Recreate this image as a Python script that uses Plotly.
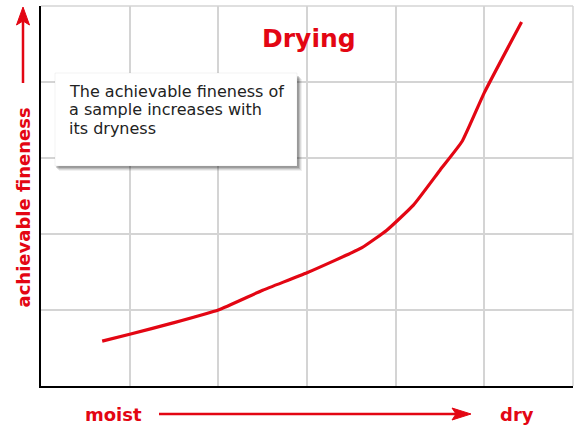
import plotly.graph_objects as go

# Drying curve: relative dryness (x) vs achievable fineness (y), grid units
dryness = [0.69, 1.0, 1.49, 2.0, 2.5, 3.0, 3.62, 3.9, 4.2, 4.5, 4.75, 5.0, 5.42]
fineness = [0.59, 0.68, 0.83, 1.0, 1.26, 1.49, 1.82, 2.05, 2.38, 2.84, 3.22, 3.86, 4.79]

x_grid = [0, 1, 2, 3, 4, 5, 6]
y_grid = [0, 1, 2, 3, 4, 5]

title_text = "Drying"
note_lines = ["The achievable fineness of", "a sample increases with", "its dryness"]
x_label_left = "moist"
x_label_right = "dry"
y_label = "achievable fineness"

RED = "#e30613"
GRID = "#d4d4d4"
W, H = 579, 427
ML, MR, MT, MB = 41, 6, 6, 41
PW, PH = W - ML - MR, H - MT - MB


def px(X):
    return (X - ML) / PW


def py(Y):
    return (H - MB - Y) / PH


fig = go.Figure()
fig.add_trace(go.Scatter(
    x=dryness, y=fineness, mode="lines",
    line=dict(color=RED, width=3.2, shape="spline", smoothing=0.4),
    hoverinfo="skip", showlegend=False,
))

shapes = []
# frame: grey top/right, black left/bottom
shapes.append(dict(type="line", xref="paper", yref="paper", x0=0, x1=1, y0=1, y1=1,
                   line=dict(color=GRID, width=1.5), layer="below"))
shapes.append(dict(type="line", xref="paper", yref="paper", x0=1, x1=1, y0=0, y1=1,
                   line=dict(color=GRID, width=1.5), layer="below"))

# note box with soft shadow
bx0, bx1, by0, by1 = 55, 297, 73, 166
for off, op in [(5, 0.06), (4, 0.09), (3, 0.13), (2, 0.17)]:
    shapes.append(dict(type="rect", xref="paper", yref="paper",
                       x0=px(bx0 + off - 1), x1=px(bx1 + off), y0=py(by1 + off), y1=py(by0 + off + 1),
                       fillcolor=f"rgba(0,0,0,{op})", line=dict(width=0), layer="above"))
shapes.append(dict(type="rect", xref="paper", yref="paper",
                   x0=px(bx0), x1=px(bx1), y0=py(by1), y1=py(by0),
                   fillcolor="white", line=dict(color="rgba(0,0,0,0.05)", width=1), layer="above"))

# vertical arrow (achievable fineness)
ax_x = 23
shapes.append(dict(type="line", xref="paper", yref="paper",
                   x0=px(ax_x), x1=px(ax_x), y0=py(83), y1=py(20),
                   line=dict(color=RED, width=2.5)))
shapes.append(dict(type="path", xref="paper", yref="paper",
                   path=f"M {px(ax_x)} {py(7)} L {px(ax_x - 6.5)} {py(25)} L {px(ax_x)} {py(21)} L {px(ax_x + 6.5)} {py(25)} Z",
                   fillcolor=RED, line=dict(color=RED, width=1)))

# horizontal arrow (moist -> dry)
ay_y = 414
shapes.append(dict(type="line", xref="paper", yref="paper",
                   x0=px(159), x1=px(458), y0=py(ay_y), y1=py(ay_y),
                   line=dict(color=RED, width=2.5)))
shapes.append(dict(type="path", xref="paper", yref="paper",
                   path=f"M {px(471)} {py(ay_y)} L {px(452)} {py(ay_y - 6)} L {px(456)} {py(ay_y)} L {px(452)} {py(ay_y + 6)} Z",
                   fillcolor=RED, line=dict(color=RED, width=1)))

annotations = []
annotations.append(dict(text=f"<b>{title_text}</b>", xref="paper", yref="paper",
                        x=px(309), y=py(38), xanchor="center", yanchor="middle",
                        showarrow=False, font=dict(family="DejaVu Sans", size=25, color=RED)))
for i, line in enumerate(note_lines):
    annotations.append(dict(text=line, xref="paper", yref="paper",
                            x=px(67), y=py(91 + i * 18.5), xanchor="left", yanchor="middle",
                            showarrow=False, font=dict(family="DejaVu Sans", size=16, color="#222222")))
annotations.append(dict(text=f"<b>{y_label}</b>", xref="paper", yref="paper",
                        x=px(23), y=py(207.5), xanchor="center", yanchor="middle", textangle=-90,
                        showarrow=False, font=dict(family="DejaVu Sans", size=18, color=RED)))
annotations.append(dict(text=f"<b>{x_label_left}</b>", xref="paper", yref="paper",
                        x=px(113), y=py(414), xanchor="center", yanchor="middle",
                        showarrow=False, font=dict(family="DejaVu Sans", size=18, color=RED)))
annotations.append(dict(text=f"<b>{x_label_right}</b>", xref="paper", yref="paper",
                        x=px(516.5), y=py(414), xanchor="center", yanchor="middle",
                        showarrow=False, font=dict(family="DejaVu Sans", size=18, color=RED)))

fig.update_layout(
    width=W, height=H,
    margin=dict(l=ML, r=MR, t=MT, b=MB),
    paper_bgcolor="white", plot_bgcolor="white",
    shapes=shapes, annotations=annotations,
    xaxis=dict(range=[x_grid[0], x_grid[-1]], tickvals=x_grid, showticklabels=False,
               showgrid=True, gridcolor=GRID, gridwidth=1.5, zeroline=False,
               showline=True, linecolor="black", linewidth=1.5, ticks="", fixedrange=True),
    yaxis=dict(range=[y_grid[0], y_grid[-1]], tickvals=y_grid, showticklabels=False,
               showgrid=True, gridcolor=GRID, gridwidth=1.5, zeroline=False,
               showline=True, linecolor="black", linewidth=1.5, ticks="", fixedrange=True),
)

fig.write_html("out.html", config={"displayModeBar": False})
